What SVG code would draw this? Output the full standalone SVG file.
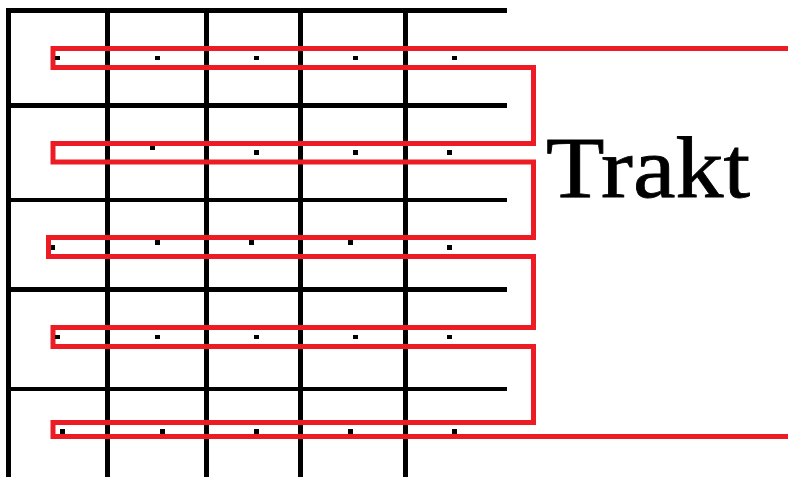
<svg xmlns="http://www.w3.org/2000/svg" width="788" height="477" viewBox="0 0 788 477">
<style>
.grid line{stroke:#000;stroke-width:5}
.trakt{fill:none;stroke:#ED1C24;stroke-width:5;stroke-linejoin:miter}
.dot{fill:#000}
.lbl{font-family:"Liberation Serif","Times New Roman",serif;font-size:86px;fill:#000;stroke:#000;stroke-width:0.8}
</style>
<rect width="788" height="477" fill="#fff"/>
<g id="grid" class="grid">
<line x1="8.5" y1="8" x2="8.5" y2="477"/>
<line x1="107.5" y1="8" x2="107.5" y2="477"/>
<line x1="206.5" y1="8" x2="206.5" y2="477"/>
<line x1="300.5" y1="8" x2="300.5" y2="477"/>
<line x1="405.5" y1="8" x2="405.5" y2="477"/>
<line x1="6" y1="10.5" x2="507" y2="10.5"/>
<line x1="6" y1="105.5" x2="507" y2="105.5"/>
<line x1="6" y1="200" x2="507" y2="200" style="stroke-width:4"/>
<line x1="6" y1="289.5" x2="507" y2="289.5"/>
<line x1="6" y1="389" x2="507" y2="389" style="stroke-width:4"/>
</g>
<g id="connectors">
<path class="trakt" d="M788,48.5 H53 V67.5 H533.5 V143.5 H53 V162 H533.5 V237.5 H48.5 V256.5 H533.5 V327.5 H53 V346.5 H533.5 V422.5 H53 V436.5 H788"/>
</g>
<g id="points" class="dot">
<rect x="55" y="56" width="5" height="4"/><rect x="155" y="56" width="5" height="4"/><rect x="254" y="56" width="5" height="4"/><rect x="353" y="56" width="5" height="4"/><rect x="452" y="56" width="5" height="4"/>
<rect x="150" y="146" width="5" height="4"/><rect x="254" y="150" width="5" height="5"/><rect x="353" y="150" width="5" height="5"/><rect x="447" y="150" width="5" height="5"/>
<rect x="51" y="245" width="4" height="5"/><rect x="155" y="240" width="5" height="5"/><rect x="249" y="240" width="5" height="5"/><rect x="348" y="240" width="5" height="5"/><rect x="447" y="245" width="5" height="5"/>
<rect x="55" y="335" width="5" height="4"/><rect x="155" y="335" width="5" height="4"/><rect x="254" y="335" width="5" height="4"/><rect x="353" y="335" width="5" height="4"/><rect x="447" y="335" width="5" height="4"/>
<rect x="60" y="429" width="5" height="5"/><rect x="160" y="429" width="5" height="5"/><rect x="254" y="429" width="5" height="5"/><rect x="348" y="429" width="5" height="5"/><rect x="452" y="429" width="5" height="5"/>
</g>
<g id="label">
<text class="lbl" x="546" y="197" textLength="204" lengthAdjust="spacingAndGlyphs">Trakt</text>
</g>
</svg>
